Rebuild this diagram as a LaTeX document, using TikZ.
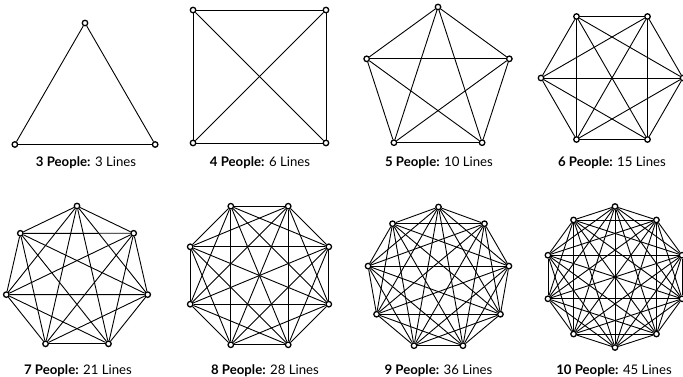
\documentclass[tikz,border=0pt]{standalone}
\usepackage{fontspec}
\setmainfont{Lato}
\usepackage{tikz}

\begin{document}
\begin{tikzpicture}[x=1pt, y=-1pt,
  person/.style={circle, draw, line width=1.3pt, fill=white, inner sep=0pt, minimum size=5.5pt},
  link/.style={line width=0.9pt},
  caption/.style={anchor=base, font=\fontsize{13.2}{15}\selectfont}]
  \useasboundingbox (0,0) rectangle (683,377);
  \foreach \n/\cx/\cy/\r/\a/\lx/\ly/\lines in
    {3/85/104/81/90/86/167/3, 4/259.5/76.5/94/45/260/167/6,
     5/438/82/75/90/439/167/10, 6/612/78/71/0/612/167/15,
     7/77/278.5/72.5/90/78/374/21, 8/259.5/275.5/75/22.5/265/374/28,
     9/438.5/278.5/71.5/90/438.5/374/36, 10/615/277/70.5/90/614/374/45} {
    \foreach \k in {1,...,\n}
      \node[person] (p\n-\k) at ({\cx+\r*cos(\a+360*(\k-1)/\n)}, {\cy-\r*sin(\a+360*(\k-1)/\n)}) {};
    \pgfmathtruncatemacro\last{\n-1}
    \foreach \i in {1,...,\last} {
      \pgfmathtruncatemacro\nxt{\i+1}
      \foreach \j in {\nxt,...,\n}
        \draw[link] (p\n-\i) -- (p\n-\j);
    }
    \node[caption] (cap\n) at (\lx,\ly) {\textbf{\n\ People:} \lines\ Lines};
  }
\end{tikzpicture}
\end{document}
